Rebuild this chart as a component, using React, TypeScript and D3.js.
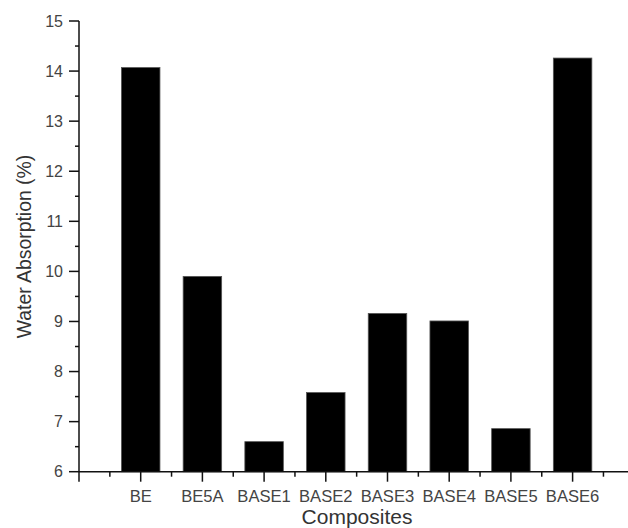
import { useRef, useEffect } from "react"
import * as d3 from "d3"

const categories = ["BE", "BE5A", "BASE1", "BASE2", "BASE3", "BASE4", "BASE5", "BASE6"]
const absorption = [14.07, 9.9, 6.6, 7.58, 9.16, 9.01, 6.86, 14.26]
const yTicks = [6, 7, 8, 9, 10, 11, 12, 13, 14, 15]

export default function App() {
  const svgRef = useRef<SVGSVGElement>(null)

  useEffect(() => {
    if (!svgRef.current) return
    const svg = d3.select(svgRef.current)
    svg.selectAll("*").remove()

    const width = 628
    const font = "'Liberation Sans', Arial, sans-serif"

    // category positions are 1..8, axis starts at 0
    const x = d3.scaleLinear().domain([0, 9]).range([79, 79 + 61.7 * 9])
    const y = d3.scaleLinear().domain([6, 15]).range([471.7, 21])
    const barWidth = 38.5

    const g = svg.append("g")

    // bars
    g.selectAll()
      .data(absorption)
      .join("rect")
      .attr("x", (d, i) => x(i + 1) - barWidth / 2)
      .attr("y", (d) => y(d))
      .attr("width", barWidth)
      .attr("height", (d) => y(6) - y(d))
      .attr("fill", "#000")
      .attr("stroke", "#555")
      .attr("stroke-width", 0.8)

    // y axis
    g.append("line")
      .attr("x1", x(0))
      .attr("x2", x(0))
      .attr("y1", y(15))
      .attr("y2", y(6) + 10)
      .attr("stroke", "#111")
      .attr("stroke-width", 1.5)

    g.selectAll()
      .data(yTicks)
      .join("line")
      .attr("x1", x(0) - 10)
      .attr("x2", x(0))
      .attr("y1", (d) => y(d))
      .attr("y2", (d) => y(d))
      .attr("stroke", "#111")
      .attr("stroke-width", 1.5)

    g.selectAll()
      .data(yTicks.slice(0, -1).map((d) => d + 0.5))
      .join("line")
      .attr("x1", x(0) - 4)
      .attr("x2", x(0))
      .attr("y1", (d) => y(d))
      .attr("y2", (d) => y(d))
      .attr("stroke", "#111")
      .attr("stroke-width", 1.5)

    g.selectAll()
      .data(yTicks)
      .join("text")
      .attr("x", x(0) - 16)
      .attr("y", (d) => y(d))
      .attr("dy", "0.36em")
      .attr("text-anchor", "end")
      .attr("font-family", font)
      .attr("font-size", 16)
      .attr("fill", "#444")
      .text((d) => d)

    // x axis
    g.append("line")
      .attr("x1", x(0))
      .attr("x2", width)
      .attr("y1", y(6))
      .attr("y2", y(6))
      .attr("stroke", "#111")
      .attr("stroke-width", 1.5)

    g.selectAll()
      .data(d3.range(1, 9))
      .join("line")
      .attr("x1", (d) => x(d))
      .attr("x2", (d) => x(d))
      .attr("y1", y(6))
      .attr("y2", y(6) + 10)
      .attr("stroke", "#111")
      .attr("stroke-width", 1.5)

    g.selectAll()
      .data(d3.range(0, 9).map((d) => d + 0.5))
      .join("line")
      .attr("x1", (d) => x(d))
      .attr("x2", (d) => x(d))
      .attr("y1", y(6))
      .attr("y2", y(6) + 5)
      .attr("stroke", "#111")
      .attr("stroke-width", 1.5)

    g.selectAll()
      .data(categories)
      .join("text")
      .attr("x", (d, i) => x(i + 1))
      .attr("y", 501.7)
      .attr("text-anchor", "middle")
      .attr("font-family", font)
      .attr("font-size", 16.6)
      .attr("fill", "#444")
      .text((d) => d)

    // axis titles
    svg
      .append("text")
      .attr("x", 357)
      .attr("y", 524)
      .attr("text-anchor", "middle")
      .attr("font-family", font)
      .attr("font-size", 21)
      .attr("fill", "#333")
      .text("Composites")

    svg
      .append("text")
      .attr("transform", "translate(31, 246.5) rotate(-90)")
      .attr("text-anchor", "middle")
      .attr("font-family", font)
      .attr("font-size", 19.4)
      .attr("fill", "#333")
      .text("Water Absorption (%)")
  }, [])

  return (
    <svg
      ref={svgRef}
      width={628}
      height={528}
      style={{ position: "absolute", left: 0, top: 0, background: "#fff" }}
    />
  )
}
